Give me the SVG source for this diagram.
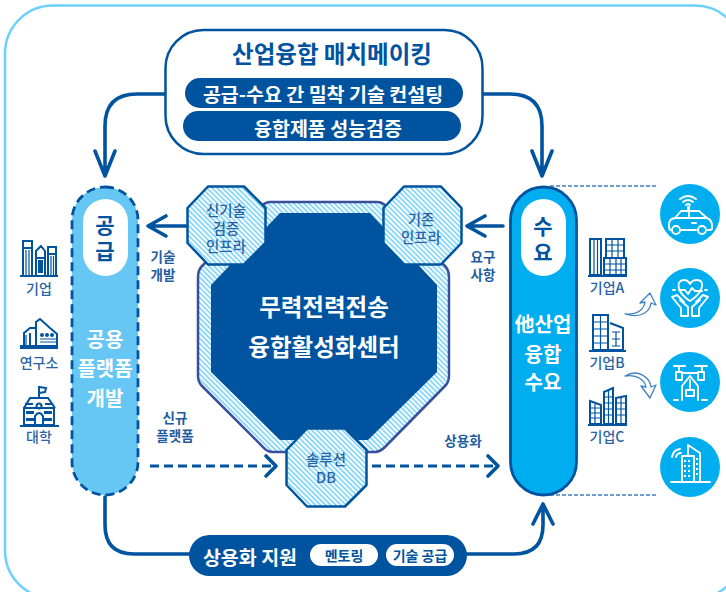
<svg xmlns="http://www.w3.org/2000/svg" width="726" height="592" viewBox="0 0 726 592">
<style>
text{font-family:"Noto Sans CJK KR","Noto Sans",sans-serif;text-anchor:middle;dominant-baseline:central}
.b{font-weight:700}
.w{fill:#fff}
.d{fill:#00539f}
.l{fill:#2a63a5;font-weight:500}
.lb{fill:#1f5ca0;font-weight:700;font-size:13.500px}
.ln{fill:none;stroke:#00539f;stroke-width:3.600;stroke-linecap:round;stroke-linejoin:round}
.da{stroke-dasharray:9 5;stroke-linecap:butt;stroke-width:3}
.hex{fill:url(#h);stroke:#00539f;stroke-width:2.500;stroke-linejoin:round}
.ic{fill:none;stroke:#00539f;stroke-width:2}
.ih{fill:none;stroke:#00539f;stroke-width:1.200}
.icf{fill:#00539f}
.wi{fill:none;stroke:#fff;stroke-width:1.900;stroke-linecap:round;stroke-linejoin:round}
.sm{fill:#fff;stroke:#3f84c2;stroke-width:1.300;stroke-linejoin:round}
</style>
<defs>
<pattern id="h" width="3.600" height="3.600" patternUnits="userSpaceOnUse" patternTransform="rotate(45)">
<rect width="3.600" height="3.600" fill="#fff"/><rect width="3.600" height="1.800" fill="#88d8fb"/>
</pattern>
</defs>
<rect id="frame" x="5" y="5.500" width="738" height="593" rx="48" fill="#fff" stroke="#6fd0ff" stroke-width="2.500"/>

<g id="connectors">
<path class="ln" d="M165 94H137Q105 94 105 126V176M95 151L105 176L115 151"/>
<path class="ln" d="M483 94H510Q542 94 542 126V176M532 151L542 176L552 151"/>
<path class="ln" d="M186 226H148M166 216L148 226L166 236"/>
<path class="ln" d="M503 226H467M485 216L467 226L485 236"/>
<path class="ln da" d="M150 466H274"/>
<path class="ln" d="M266 456L276 466L266 476"/>
<path class="ln da" d="M372 466H496"/>
<path class="ln" d="M488 456L498 466L488 476"/>
<path class="ln" d="M105 497V525Q105 554 134 554H189"/>
<path class="ln" d="M467 554H514Q543 554 543 525V504M533 524L543 504L553 524"/>
<path d="M550 186H656M550 495H656" fill="none" stroke="#3f7fb8" stroke-width="1.300" stroke-dasharray="4 2"/>
<path class="sm" d="M625 314C638 315 644 309 645 302L640 303L650 293L656 305L651 303C650 312 640 319 625 314Z"/>
<path class="sm" d="M625 376C638 374 645 381 646 387L641 386L650 398L656 385L651 387C650 378 638 368 625 376Z"/>
</g>

<g id="matchmaking">
<rect x="165.500" y="30" width="317" height="124" rx="38" fill="#fff" stroke="#00539f" stroke-width="2.500"/>
<text class="b d" x="332" y="53" font-size="23.500">산업융합 매치메이킹</text>
<rect x="185" y="78" width="278" height="30" rx="15" fill="#00539f"/>
<text class="b w" x="323" y="93" font-size="19.500">공급-수요 간 밀착 기술 컨설팅</text>
<rect x="183" y="111" width="278" height="30" rx="15" fill="#00539f"/>
<text class="b w" x="328" y="127" font-size="19.500">융합제품 성능검증</text>
</g>

<g id="supply">
<rect x="72" y="187" width="66" height="308" rx="33" fill="#66c7f5" stroke="#00539f" stroke-width="2.800" stroke-dasharray="9 5"/>
<rect x="83" y="199" width="45" height="77" rx="22.500" fill="#fff"/>
<text class="b d" x="105" y="224" font-size="21">공</text>
<text class="b d" x="105" y="250" font-size="21">급</text>
<text class="b w" x="105" y="338" font-size="20">공용</text>
<text class="b w" x="105" y="367" font-size="20">플랫폼</text>
<text class="b w" x="105" y="397" font-size="20">개발</text>
</g>

<g id="demand">
<rect x="510.500" y="187" width="66" height="308" rx="33" fill="#00aeef" stroke="#00539f" stroke-width="2.800"/>
<rect x="521" y="199" width="45" height="77" rx="22.500" fill="#fff"/>
<text class="b d" x="543" y="225" font-size="21">수</text>
<text class="b d" x="543" y="251" font-size="21">요</text>
<text class="b w" x="543" y="323" font-size="20">他산업</text>
<text class="b w" x="543" y="353" font-size="20">융합</text>
<text class="b w" x="543" y="381" font-size="20">수요</text>
</g>

<g id="center">
<path d="M270 202H377Q382 202 386 206L445 266Q449 270 449 277V376Q449 382 445 386L385 447Q380 452 375 452H273Q267 452 263 447L202 386Q198 382 198 376V277Q198 270 202 266L262 206Q265 202 270 202Z" fill="url(#h)" stroke="#3a4f9c" stroke-width="2.500"/>
<path d="M280 213H370L437 285V372L368 440H280L211 372V285Z" fill="#00539f"/>
<text class="b w" x="324" y="306" font-size="23.500">무력전력전송</text>
<text class="b w" x="324" y="346" font-size="23.500">융합활성화센터</text>
</g>

<g id="infra-new">
<path class="hex" d="M208 186.500H244L265.500 208V243L244 264.500H208L187.500 243V208Z"/>
<text class="l" font-size="14.500"><tspan x="226" y="209">신기술</tspan><tspan x="226" y="227">검증</tspan><tspan x="226" y="245">인프라</tspan></text>
</g>

<g id="infra-old">
<path class="hex" d="M404 186.500H441L461.500 208V243L441 264.500H404L383.500 243V208Z"/>
<text class="l" font-size="14.500"><tspan x="421" y="218">기존</tspan><tspan x="421" y="236">인프라</tspan></text>
</g>

<g id="solution-db">
<path class="hex" d="M307 428.500H345L366.500 450V485L345 506.500H307L286.500 485V450Z"/>
<text class="l" font-size="14.500"><tspan x="326" y="458">솔루션</tspan><tspan x="326" y="476">DB</tspan></text>
</g>

<g id="commercial">
<rect x="189" y="535" width="278" height="41" rx="20.500" fill="#00539f"/>
<text class="b w" x="250" y="556" font-size="19.500">상용화 지원</text>
<rect x="310" y="544" width="68" height="22" rx="11" fill="#fff"/>
<text class="b d" x="344" y="555" font-size="14">멘토링</text>
<rect x="386" y="544" width="68" height="22" rx="11" fill="#fff"/>
<text class="b d" x="420" y="555" font-size="14">기술 공급</text>
</g>

<g id="labels">
<text class="lb"><tspan x="163" y="256">기술</tspan><tspan x="163" y="274">개발</tspan></text>
<text class="lb"><tspan x="175" y="417">신규</tspan><tspan x="175" y="435">플랫폼</tspan></text>
<text class="lb"><tspan x="483" y="256">요구</tspan><tspan x="483" y="274">사항</tspan></text>
<text class="lb" x="463" y="440">상용화</text>
</g>

<g id="org-company">
<path class="ic" d="M23 241H32V276H23ZM23 248H32M41 246L45 251V276H36V251ZM36 258H45M48 247H56V276H48ZM48 254H56"/>
<path class="ih" d="M26 250V276M29 250V276M51 256V276M53.500 256V276"/>
<rect class="icf" x="38" y="260" width="5" height="13"/>
<rect class="icf" x="20" y="275" width="38" height="2"/>
<text class="l" x="39" y="288" font-size="14">기업</text>
</g>
<g id="org-institute">
<path class="ic" d="M24 345V333L30 328H36V322L40 319L50 328L57 334V345M30 345V333M36 345V328"/>
<circle class="icf" cx="42" cy="335" r="2"/><circle class="icf" cx="47" cy="335" r="2"/><circle class="icf" cx="52" cy="335" r="2"/>
<path class="ih" d="M40 339H56M40 342H56M26 335V345"/>
<rect class="icf" x="20" y="345" width="38" height="4"/>
<text class="l" x="39" y="362" font-size="14">연구소</text>
</g>
<g id="org-university">
<path class="ic" d="M39 398V387L46 388L45 392L39 393M24 408L30 398H48L55 408M24 408H54V425H24ZM35 425V416Q39 410 43 416V425"/>
<circle class="ic" cx="39" cy="406" r="2.500"/>
<path class="icf" d="M26 411H34V414H26ZM44 411H52V414H44ZM26 418H34V421H26ZM44 418H52V421H44ZM25 403H33V405H25ZM45 403H53V405H45Z"/>
<rect class="icf" x="20" y="425" width="39" height="2"/>
<text class="l" x="39" y="436" font-size="14">대학</text>
</g>

<g id="company-a">
<path class="ic" d="M590 239H601V275H590ZM606 258V239H624V258M604 258H626V275H604Z"/>
<path class="ih" d="M594 239V275M597.500 239V275M606 245H624M606 251H624M612 239V258M618 239V258M604 264H626M604 270H626M610 258V275M616 258V275M621 258V275"/>
<rect class="icf" x="588" y="275" width="39" height="2"/>
<text class="l" x="607" y="287" font-size="14">기업A</text>
</g>
<g id="company-b">
<path class="ic" d="M593 315H608V350H593ZM610 323L623 328V350H608"/>
<path class="ih" d="M593 322H608M593 329H608M593 336H608M593 343H608M600.500 315V350M612 332H620M612 339H620M616 332V346M612 346H620"/>
<rect class="icf" x="589" y="350" width="37" height="2"/>
<text class="l" x="607" y="362" font-size="14">기업B</text>
</g>
<g id="company-c">
<path class="ic" d="M590 401L601 405V424H590ZM604 392L613 388V424H604ZM616 398L626 396V424H616Z"/>
<path class="ih" d="M590 408H601M590 413H601M590 418H601M595 404V424M604 397H613M604 403H613M604 409H613M604 415H613M608.500 390V424M616 403H626M616 409H626M616 415H626M621 397V424"/>
<rect class="icf" x="588" y="424" width="39" height="2"/>
<text class="l" x="607" y="436" font-size="14">기업C</text>
</g>

<g id="icon-car">
<circle cx="690" cy="214" r="30" fill="#00aeef"/>
<path class="wi" d="M671 230Q669 230 669 227V224Q669 219 675 218L681 211H699L707 218Q712 220 712 226V229Q712 230 709 230H707M696 230H681M675 218H707M689 211V218M692 223H696"/>
<circle class="wi" cx="676" cy="230" r="4"/><circle class="wi" cx="702" cy="230" r="4"/>
<path class="wi" d="M680 199Q688 193 696 199M683 202Q688 198 693 202M686 205Q688 203 690 205"/>
<path d="M687 206H690V211H687Z" fill="#fff"/>
</g>
<g id="icon-care">
<circle cx="690" cy="298" r="30" fill="#00aeef"/>
<path class="wi" d="M690 301C677 293 675 280 684 280Q688 280 690 284Q692 280 697 280C706 280 703 293 690 301ZM679 290H685L688 294L692 288L695 291H702M673 290H675M705 290H707M672 297L681 308V316H688V307L680 300M708 297L699 308V316H692V307L700 300M672 297L677 295L684 302M708 297L703 295L696 302"/>
</g>
<g id="icon-drone">
<circle cx="690" cy="382" r="30" fill="#00aeef"/>
<path class="wi" d="M674 366H685M695 366H707M679 366V372M702 366V372M676 372H682V380H676ZM698 372H704V380H698ZM682 373H698M690 376L682 386V400M690 376L698 386V400M686 390H694V396H686ZM690 380V390M674 400H678M702 400H707"/>
</g>
<g id="icon-building">
<circle cx="690" cy="467" r="30" fill="#00aeef"/>
<path class="wi" d="M682 481V456H688V445L700 453V481M671 482H710M688 456H694V481"/>
<path d="M684 460h2v2h-2zM688 460h2v2h-2zM684 465h2v2h-2zM688 465h2v2h-2zM684 470h2v2h-2zM688 470h2v2h-2zM684 475h2v2h-2zM688 475h2v2h-2zM696 458h2v2h-2zM696 463h2v2h-2zM696 468h2v2h-2zM696 473h2v2h-2z" fill="#fff"/>
<path class="wi" d="M672 457Q673 450 680 449M676 457Q677 453 681 453"/>
</g>
</svg>
